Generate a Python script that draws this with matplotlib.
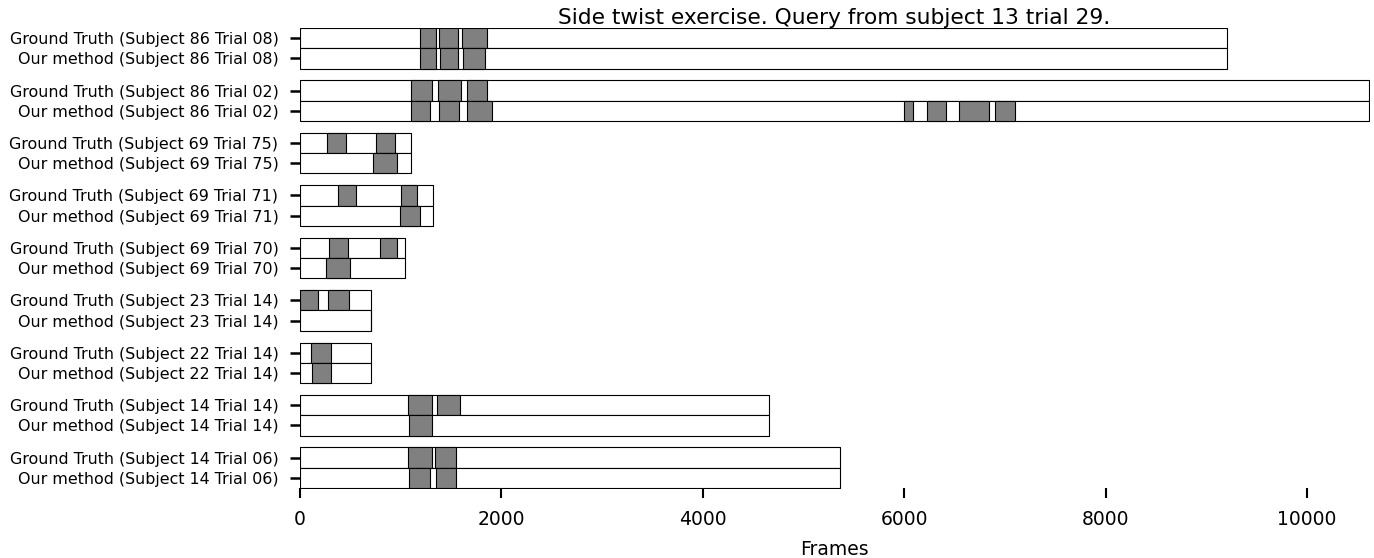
import matplotlib
matplotlib.use("Agg")
import matplotlib.pyplot as plt

# trials, top to bottom
subjects = ["86", "86", "69", "69", "69", "23", "22", "14", "14"]
trials = ["08", "02", "75", "71", "70", "14", "14", "14", "06"]
lengths = [9209, 10616, 1104, 1322, 1047, 706, 706, 4657, 5362]

# (start, end) frames of the matched segments
gt_segments = [
    [(1188, 1355), (1383, 1567), (1613, 1855)],
    [(1106, 1312), (1369, 1599), (1656, 1862)],
    [(266, 455), (756, 942)],
    [(379, 554), (1008, 1163)],
    [(286, 478), (792, 965)],
    [(0, 177), (276, 488)],
    [(111, 309)],
    [(1075, 1314), (1361, 1593)],
    [(1075, 1307), (1343, 1552)],
]
our_segments = [
    [(1188, 1347), (1390, 1571), (1620, 1837)],
    [(1106, 1294), (1376, 1582), (1663, 1904), (5997, 6088),
     (6230, 6416), (6548, 6842), (6906, 7099)],
    [(730, 965)],
    [(991, 1189)],
    [(260, 495)],
    [(702, 706)],
    [(124, 306)],
    [(1086, 1314)],
    [(1083, 1296), (1351, 1549)],
]

title = "Side twist exercise. Query from subject 13 trial 29."

fig = plt.figure(figsize=(13.74, 5.58), dpi=100)
ax = fig.add_axes([0.2183, 0.1254, 0.7781, 0.8244])

pitch = 2.58
n = len(lengths)
yticks, ylabels = [], []
for i in range(n):
    base = (n - 1 - i) * pitch
    rows = [
        (base + 1, gt_segments[i], "Ground Truth"),
        (base, our_segments[i], "Our method"),
    ]
    for y, segs, name in rows:
        ax.broken_barh([(0, lengths[i])], (y, 1), facecolors="white",
                       edgecolors="black", linewidth=0.8)
        if segs:
            ax.broken_barh([(s, e - s) for s, e in segs], (y, 1),
                           facecolors="gray", edgecolors="black",
                           linewidth=0.8)
        yticks.append(y + 0.5)
        ylabels.append(f"{name} (Subject {subjects[i]} Trial {trials[i]})")

ax.set_yticks(yticks)
ax.set_yticklabels(ylabels, fontsize=11.4)
ax.set_xlim(0, max(lengths))
ax.set_ylim(0, (n - 1) * pitch + 2)
ax.set_xticks([0, 2000, 4000, 6000, 8000, 10000])
ax.tick_params(axis="x", labelsize=13.5, length=7, width=1.5, pad=9)
ax.tick_params(axis="y", length=7, width=1.8, pad=8.5)
for sp in ax.spines.values():
    sp.set_visible(False)

ax.set_xlabel("Frames", fontsize=13.5, labelpad=8)
ax.set_title(title, fontsize=15.7, pad=1.5)

fig.savefig("out.png", dpi=100)
plt.close(fig)
